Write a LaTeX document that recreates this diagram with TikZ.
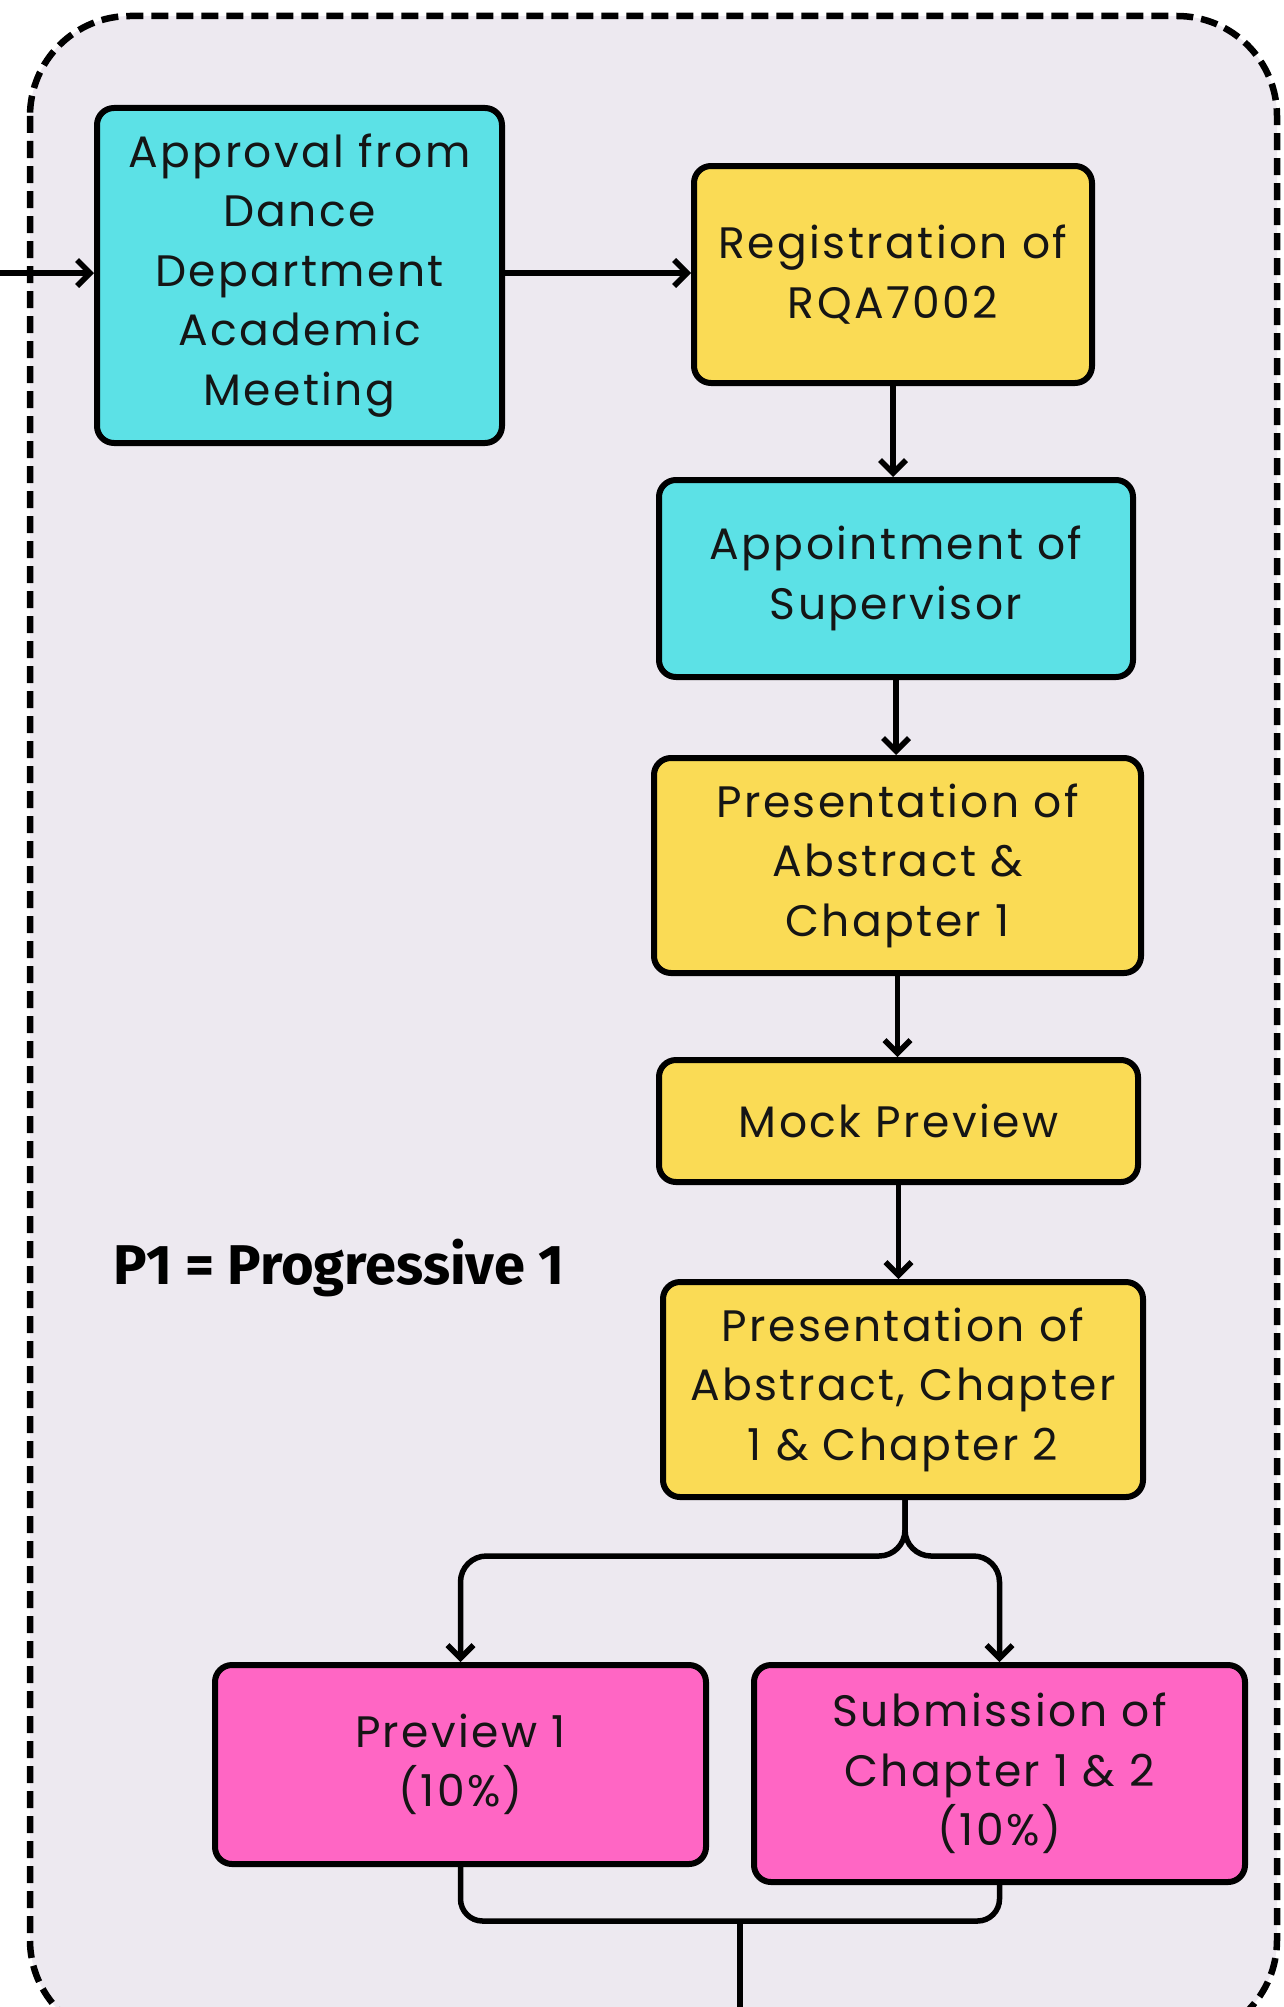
\documentclass[tikz,border=0pt]{standalone}
\usepackage{fontspec}
\setmainfont[LetterSpace=5.5]{Poppins}
\newfontfamily\notefont{Fira Sans}
\usetikzlibrary{arrows.meta}

\definecolor{framebg}{HTML}{EDE9F0}
\definecolor{boxcyan}{HTML}{5CE1E6}
\definecolor{boxyellow}{HTML}{FADB55}
\definecolor{boxpink}{HTML}{FF66C4}
\definecolor{inkdark}{HTML}{151515}

\tikzset{
  stepbox/.style={draw=black, line width=6pt, rounded corners=17pt,
    align=center, inner sep=0pt, text=inkdark,
    font=\fontsize{44}{59.5}\selectfont},
  arr/.style={line width=5.5pt, -{Straight Barb[length=13pt,width=26pt,line width=5.5pt]}},
  link/.style={line width=5.5pt},
}

\begin{document}
\begin{tikzpicture}[x=1pt, y=-1pt]
\useasboundingbox (0,0) rectangle (1283,2007);

\draw[fill=framebg, line width=6.5pt, dash pattern=on 17pt off 8pt, rounded corners=100pt]
  (30,16) rectangle (1277,2040);

\node[stepbox, fill=boxcyan, minimum width=405pt, minimum height=335pt] (appr) at (299.5,275.5)
  {Approval from\\Dance\\Department\\Academic\\Meeting};
\node[stepbox, fill=boxyellow, minimum width=398pt, minimum height=217pt] (reg) at (893,274.5)
  {Registration of\\RQA7002};
\node[stepbox, fill=boxcyan, minimum width=474pt, minimum height=197pt] (app) at (896,578.5)
  {Appointment of\\Supervisor};
\node[stepbox, fill=boxyellow, minimum width=487pt, minimum height=215pt] (pres) at (897.5,865.5)
  {Presentation of\\Abstract \&\\Chapter 1};
\node[stepbox, fill=boxyellow, minimum width=479pt, minimum height=122pt] (mock) at (898.5,1121)
  {Mock Preview};
\node[stepbox, fill=boxyellow, minimum width=480pt, minimum height=215pt] (presb) at (903,1389.5)
  {Presentation of\\Abstract, Chapter\\1 \& Chapter 2};
\node[stepbox, fill=boxpink, minimum width=491pt, minimum height=199pt] (prev) at (460.5,1764.5)
  {Preview 1\\(10\%)};
\node[stepbox, fill=boxpink, minimum width=491pt, minimum height=217pt] (subm) at (999.5,1773.5)
  {Submission of\\Chapter 1 \& 2\\(10\%)};

\node[font=\notefont\bfseries\fontsize{56}{64}\selectfont, text=black] (note) at (339,1268)
  {P1 = Progressive 1};

\coordinate (in) at (0,273);
\coordinate (split) at (905,1556);
\coordinate (join) at (740,1921);
\coordinate (out) at (740,2040);

\draw[arr] (in) -- (appr.west |- in);
\draw[arr] (appr.east |- in) -- (reg.west |- in);
\foreach \a/\b in {reg/app, app/pres, pres/mock, mock/presb}
  \draw[arr] (\a.south) -- (\a.south |- \b.north);

\draw[arr, rounded corners=26pt] (presb.south -| split) -- (split) -| (prev.north);
\draw[arr, rounded corners=26pt] (presb.south -| split) -- (split) -| (subm.north);

\draw[link, rounded corners=22pt] (prev.south) |- (join) -| (subm.south);
\draw[link] (join) -- (out);
\end{tikzpicture}
\end{document}
